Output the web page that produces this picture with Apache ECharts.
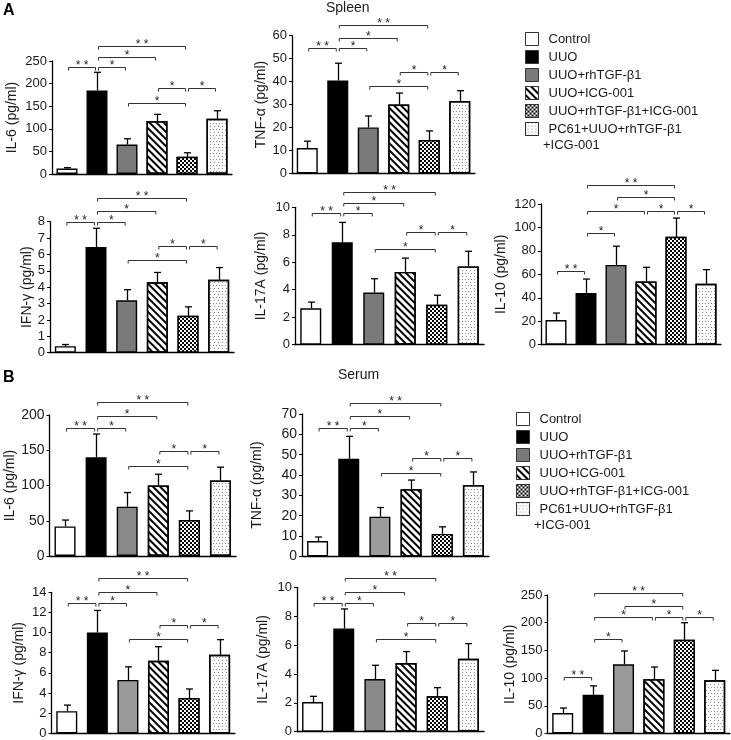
<!DOCTYPE html>
<html><head><meta charset="utf-8">
<script src="https://cdn.jsdelivr.net/npm/echarts@6/dist/echarts.min.js"></script>
<style>html,body{margin:0;padding:0;background:#fff}#c{width:731px;height:740px}</style>
</head><body><div id="c"></div><script>
// ---------- data ----------
const groups = ['Control', 'UUO', 'UUO+rhTGF-β1', 'UUO+ICG-001', 'UUO+rhTGF-β1+ICG-001', 'PC61+UUO+rhTGF-β1\n+ICG-001'];

// Spleen (A)
const spleenIL6 = [12, 185, 65, 117, 38, 122];
const spleenIL6SD = [2, 40, 13, 15, 9, 18];
const spleenTNF = [11, 40.5, 20, 30, 14.5, 31.5];
const spleenTNFSD = [3, 7.5, 5, 5, 4, 4.5];
const spleenIFN = [0.4, 6.45, 3.2, 4.3, 2.25, 4.45];
const spleenIFNSD = [0.1, 1.15, 0.65, 0.6, 0.55, 0.75];
const spleenIL17A = [2.65, 7.45, 3.8, 5.3, 2.9, 5.7];
const spleenIL17ASD = [0.45, 1.45, 1.0, 1.0, 0.7, 1.1];
const spleenIL10 = [21, 44, 68, 54, 92, 52];
const spleenIL10SD = [6, 12, 16, 12, 16, 12];

// Serum (B)
const serumIL6 = [42, 140, 70, 100, 51, 107];
const serumIL6SD = [9, 33, 20, 16, 13, 19];
const serumTNF = [7.5, 48, 19.5, 33, 11, 35];
const serumTNFSD = [2, 11, 4.5, 4.5, 3.5, 6.5];
const serumIFN = [2.2, 10, 5.3, 7.2, 3.5, 7.8];
const serumIFNSD = [0.6, 2.2, 1.3, 1.4, 0.9, 1.5];
const serumIL17A = [2.05, 7.15, 3.65, 4.75, 2.45, 5.05];
const serumIL17ASD = [0.4, 1.35, 0.95, 0.8, 0.6, 1.05];
const serumIL10 = [37, 70, 125, 98, 169, 96];
const serumIL10SD = [9, 16, 24, 22, 31, 18];

// significance brackets: [fromGroup, toGroup, level, stars]
const spleenIL6Sig = [[0,1,237,2],[1,2,237,1],[1,3,258,1],[1,4,284,2],[3,4,190,1],[4,5,190,1],[2,4,158,1]];
const spleenTNFSig = [[0,1,54.5,2],[1,2,54.5,1],[1,3,59.1,1],[1,4,64.7,2],[3,4,44.3,1],[4,5,44.3,1],[2,4,38,1]];
const spleenIFNSig = [[0,1,8.0,2],[1,2,8.0,1],[1,3,8.67,1],[1,4,9.43,2],[3,4,6.53,1],[4,5,6.53,1],[2,4,5.66,1]];
const spleenIL17ASig = [[0,1,9.56,2],[1,2,9.56,1],[1,3,10.33,1],[1,4,11.13,2],[3,4,8.22,1],[4,5,8.22,1],[2,4,7.0,1]];
const spleenIL10Sig = [[0,1,63.1,2],[1,2,95.5,1],[1,3,114,1],[3,4,114,1],[4,5,114,1],[2,4,125.7,1],[1,4,136.2,2]];
const serumIL6Sig = [[0,1,182,2],[1,2,182,1],[1,3,198,1],[1,4,219,2],[3,4,149,1],[4,5,149,1],[2,4,127.5,1]];
const serumTNFSig = [[0,1,63,2],[1,2,63,1],[1,3,69,1],[1,4,75.3,2],[3,4,48.2,1],[4,5,48.2,1],[2,4,40.8,1]];
const serumIFNSig = [[0,1,12.9,2],[1,2,12.9,1],[1,3,14.0,1],[1,4,15.45,2],[3,4,10.75,1],[4,5,10.75,1],[2,4,9.36,1]];
const serumIL17ASig = [[0,1,8.9,2],[1,2,8.9,1],[1,3,9.65,1],[1,4,10.67,2],[3,4,7.5,1],[4,5,7.5,1],[2,4,6.42,1]];
const serumIL10Sig = [[0,1,102,2],[1,2,170,1],[1,3,210,1],[3,4,210,1],[4,5,210,1],[2,4,231,1],[1,4,253,2]];

// ---------- layout ----------
const panels = [
  {mean: spleenIL6, sd: spleenIL6SD, sig: spleenIL6Sig, max: 250, interval: 50, name: 'IL-6 (pg/ml)', g: [52, 61, 180, 113], gap: 33, fs: 13, gray: '#7a7a7a'},
  {mean: spleenTNF, sd: spleenTNFSD, sig: spleenTNFSig, max: 60, interval: 10, name: 'TNF-α (pg/ml)', g: [292, 35.7, 183, 137.6], gap: 22, fs: 13, gray: '#7a7a7a'},
  {mean: spleenIFN, sd: spleenIFNSD, sig: spleenIFNSig, max: 8, interval: 1, name: 'IFN-γ (pg/ml)', g: [50, 221.7, 184, 131], gap: 11, fs: 13, gray: '#7a7a7a'},
  {mean: spleenIL17A, sd: spleenIL17ASD, sig: spleenIL17ASig, max: 10, interval: 2, name: 'IL-17A (pg/ml)', g: [295, 207.3, 189, 137.4], gap: 27, fs: 13, gray: '#7a7a7a'},
  {mean: spleenIL10, sd: spleenIL10SD, sig: spleenIL10Sig, max: 120, interval: 20, name: 'IL-10 (pg/ml)', g: [541, 204, 180, 140.7], gap: 33, fs: 13, gray: '#7a7a7a'},
  {mean: serumIL6, sd: serumIL6SD, sig: serumIL6Sig, max: 200, interval: 50, name: 'IL-6 (pg/ml)', g: [49.5, 415, 186.5, 141], gap: 30, fs: 14, gray: '#8a8a8a'},
  {mean: serumTNF, sd: serumTNFSD, sig: serumTNFSig, max: 70, interval: 10, name: 'TNF-α (pg/ml)', g: [302, 414, 187, 142.3], gap: 38, fs: 14, gray: '#9c9c9c'},
  {mean: serumIFN, sd: serumIFNSD, sig: serumIFNSig, max: 14, interval: 2, name: 'IFN-γ (pg/ml)', g: [51.5, 592.3, 183.4, 141], gap: 25, fs: 13, gray: '#9a9a9a'},
  {mean: serumIL17A, sd: serumIL17ASD, sig: serumIL17ASig, max: 10, interval: 2, name: 'IL-17A (pg/ml)', g: [297, 587.3, 187, 144.4], gap: 27, fs: 13, gray: '#8a8a8a'},
  {mean: serumIL10, sd: serumIL10SD, sig: serumIL10Sig, max: 250, interval: 50, name: 'IL-10 (pg/ml)', g: [547.5, 595, 182.4, 140.7], gap: 26, fs: 13, gray: '#9a9a9a'}
];

const FONT = '"Liberation Sans", Arial, Helvetica, sans-serif';
const TXT = '#1a1a1a';

function groupStyle(k, gray) {
  const base = {borderColor: '#000', borderWidth: 1.4};
  if (k === 0) return Object.assign(base, {color: '#fff'});
  if (k === 1) return Object.assign(base, {color: '#000'});
  if (k === 2) return Object.assign(base, {color: gray});
  if (k === 3) return Object.assign(base, {color: '#fff', decal: {symbol: 'rect', symbolSize: 1, color: '#000', dashArrayX: [1, 0], dashArrayY: [1.4, 2.6], rotation: Math.PI / 4}});
  if (k === 4) return Object.assign(base, {color: '#000', decal: {symbol: 'rect', symbolSize: 1, color: '#fff', dashArrayX: [[2, 2], [0, 2, 2, 0]], dashArrayY: [2, 0]}});
  return Object.assign(base, {color: '#fff', decal: {symbol: 'rect', symbolSize: 1, color: '#8a8a8a', dashArrayX: [[1, 2], [0, 1.5, 1, 0.5]], dashArrayY: [1, 1.5]}});
}

const grid = [], xAxis = [], yAxis = [], series = [];
panels.forEach((p, i) => {
  grid.push({left: p.g[0], top: p.g[1], width: p.g[2], height: p.g[3], containLabel: false});
  xAxis.push({type: 'category', gridIndex: i, data: groups, boundaryGap: true,
    axisLine: {show: true, lineStyle: {color: '#000', width: 1.3}}, axisTick: {show: false}, axisLabel: {show: false}, splitLine: {show: false}});
  yAxis.push({type: 'value', gridIndex: i, min: 0, max: p.max, interval: p.interval,
    axisLine: {show: true, lineStyle: {color: '#000', width: 1.3}},
    axisTick: {show: true, length: 3, lineStyle: {color: '#000'}},
    splitLine: {show: false},
    axisLabel: {fontSize: p.fs, color: TXT, margin: 5, fontFamily: FONT},
    name: p.name, nameLocation: 'middle', nameGap: p.gap,
    nameTextStyle: {fontSize: 14, color: TXT, fontFamily: FONT}});
  groups.forEach((gName, k) => {
    series.push({type: 'bar', name: gName, xAxisIndex: i, yAxisIndex: i,
      data: p.mean.map((v, j) => j === k ? v : '-'),
      barWidth: 21, barGap: '-100%', itemStyle: groupStyle(k, p.gray), silent: true, animation: false});
  });
  series.push({type: 'custom', xAxisIndex: i, yAxisIndex: i, silent: true, animation: false, z: 5, clip: false,
    data: p.mean.map((m, j) => [j, m, m + p.sd[j]]),
    renderItem: (params, api) => {
      const top = api.coord([api.value(0), api.value(2)]);
      const bot = api.coord([api.value(0), api.value(1)]);
      const x = Math.round(top[0]) + 0.5;
      const st = {stroke: '#000', lineWidth: 1.3};
      return {type: 'group', children: [
        {type: 'line', shape: {x1: x, y1: bot[1], x2: x, y2: top[1]}, style: st},
        {type: 'line', shape: {x1: x - 3.5, y1: top[1], x2: x + 3.5, y2: top[1]}, style: st}
      ]};
    }});
  series.push({type: 'custom', xAxisIndex: i, yAxisIndex: i, silent: true, animation: false, z: 6, clip: false,
    data: p.sig,
    renderItem: (params, api) => {
      const a = api.coord([api.value(0), api.value(2)]);
      const b = api.coord([api.value(1), api.value(2)]);
      const xa = a[0] + 1.5, xb = b[0] - 1.5, y = Math.round(a[1]) + 0.5;
      return {type: 'group', children: [
        {type: 'polyline', shape: {points: [[xa, y + 3], [xa, y], [xb, y], [xb, y + 3]]}, style: {stroke: '#333', fill: null, lineWidth: 1}},
        {type: 'text', style: {text: api.value(3) === 2 ? '* *' : '*', x: (xa + xb) / 2, y: y - 2,
          align: 'center', verticalAlign: 'middle', textAlign: 'center', textVerticalAlign: 'middle',
          font: '12px ' + FONT, fill: '#222'}}
      ]};
    }});
});

const legendBase = {orient: 'vertical', itemWidth: 13, itemHeight: 13, itemGap: 4, icon: 'rect', selectedMode: false,
  itemStyle: {borderWidth: 1, borderColor: '#333'},
  formatter: name => name.split('\n')[0],
  textStyle: {fontSize: 13, color: TXT, fontFamily: FONT, padding: [0, 0, 0, 5]}, data: groups};
const secondLine = groups[5].split('\n')[1];

const option = {
  backgroundColor: '#fff',
  animation: false,
  grid, xAxis, yAxis, series,
  legend: [Object.assign({left: 520, top: 27}, legendBase), Object.assign({left: 511, top: 407}, legendBase)],
  graphic: [
    {type: 'text', left: 3, top: 3, style: {text: 'A', font: 'bold 16px ' + FONT, fill: '#000'}},
    {type: 'text', left: 3, top: 370, style: {text: 'B', font: 'bold 16px ' + FONT, fill: '#000'}},
    {type: 'text', left: 326, top: 1, style: {text: 'Spleen', font: '14px ' + FONT, fill: TXT}},
    {type: 'text', left: 338, top: 368, style: {text: 'Serum', font: '14px ' + FONT, fill: TXT}},
    {type: 'text', left: 543, top: 139, style: {text: secondLine, font: '13px ' + FONT, fill: TXT}},
    {type: 'text', left: 534, top: 519, style: {text: secondLine, font: '13px ' + FONT, fill: TXT}}
  ]
};
const chart = echarts.init(document.getElementById('c'), null, {renderer: 'canvas'});
chart.setOption(option);
</script></body></html>
